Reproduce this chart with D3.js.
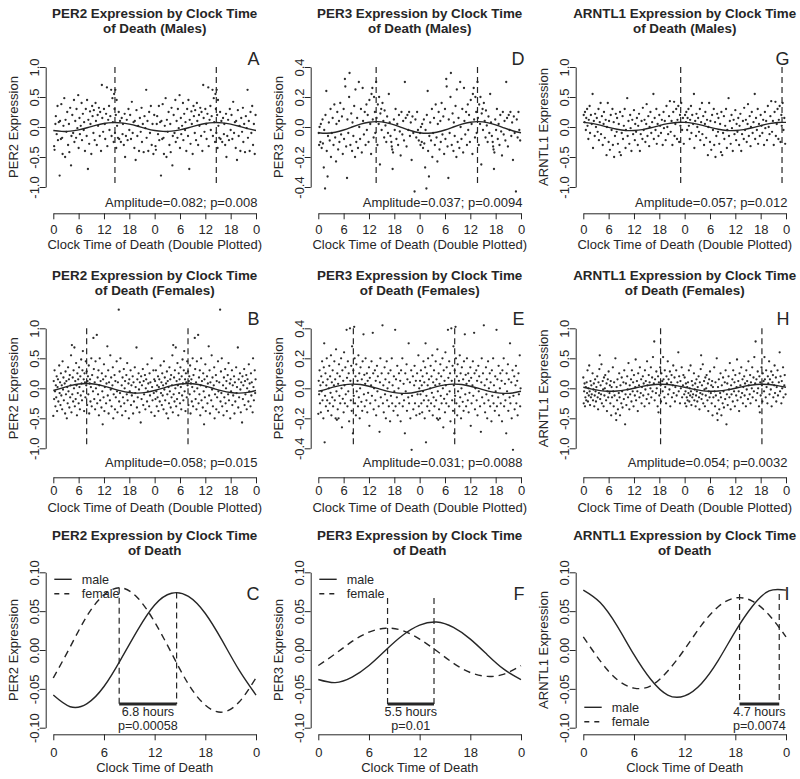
<!DOCTYPE html>
<html><head><meta charset="utf-8">
<script src="https://cdn.jsdelivr.net/npm/d3@7"></script>
<style>
body{margin:0;background:#fff;}
svg text{font-family:"Liberation Sans",Arial,Helvetica,sans-serif;fill:#262626;}
</style></head><body>
<svg id="c" width="800" height="779"></svg>
<script>
// ---------- DATA ----------
const curveHours = [0,2,4,6,8,10,12,14,16,18,20,22,24];
const per2MaleCurve   = [-0.058,-0.073,-0.069,-0.047,-0.012,0.026,0.058,0.073,0.069,0.047,0.012,-0.026,-0.058];
const per2FemaleCurve = [-0.036,0.004,0.044,0.071,0.080,0.067,0.036,-0.004,-0.044,-0.071,-0.080,-0.067,-0.036];
const per3MaleCurve   = [-0.038,-0.042,-0.035,-0.020,0.000,0.019,0.032,0.036,0.029,0.014,-0.006,-0.025,-0.038];
const per3FemaleCurve = [-0.020,-0.005,0.011,0.023,0.028,0.025,0.014,-0.001,-0.017,-0.029,-0.034,-0.031,-0.020];
const arntlMaleCurve  = [0.077,0.061,0.031,-0.006,-0.038,-0.058,-0.059,-0.043,-0.013,0.024,0.056,0.076,0.077];
const arntlFemaleCurve= [0.017,-0.014,-0.038,-0.049,-0.046,-0.027,0.001,0.032,0.056,0.067,0.063,0.045,0.017];

const scatterTicks = [0,6,12,18,24,30,36,42,48];
const scatterTickLabels = ["0","6","12","18","0","6","12","18","0"];
const dayTicks = [0,6,12,18,24];
const dayTickLabels = ["0","6","12","18","0"];
const wideYTicks = [-1,-0.5,0,0.5,1];
const wideYLabels = ["-1.0","-0.5","0.0","0.5","1.0"];
const per3YTicks = [-0.4,-0.2,0,0.2,0.4];
const per3YLabels = ["-0.4","-0.2","0.0","0.2","0.4"];
const compYTicks = [-0.1,-0.05,0,0.05,0.1];
const compYLabels = ["-0.10","-0.05","0.00","0.05","0.10"];

// individual samples (clock hour, expression), plotted twice (double plotted)
const per2MalePoints = [[0.2,-0.32],[0.3,-0.38],[0.5,0.05],[0.6,0.18],[0.8,-0.12],[1.0,0.35],[1.1,-0.22],[1.3,0.08],[1.5,-0.81],[1.6,0.1],[1.8,-0.2],[1.9,0.38],[2.1,-0.18],[2.2,-0.45],[2.4,0.02],[2.6,0.48],[2.8,-0.5],[2.9,0.12],[3.1,-0.08],[3.3,0.25],[3.5,-0.3],[3.7,0.05],[3.8,-0.42],[4.0,0.32],[4.2,-0.64],[4.3,-0.15],[4.5,0.2],[4.7,-0.1],[4.9,0.45],[5.0,-0.25],[5.2,0.1],[5.4,-0.18],[5.5,0.3],[5.7,-0.02],[5.9,0.53],[6.0,-0.35],[6.2,0.15],[6.3,-0.12],[6.5,0.02],[6.7,0.4],[6.8,-0.22],[7.0,0.22],[7.2,-0.05],[7.3,0.08],[7.5,-0.4],[7.7,0.3],[7.9,-0.15],[8.0,0.45],[8.2,-0.7],[8.3,0.12],[8.5,-0.28],[8.7,0.26],[8.8,0.05],[9.0,-0.45],[9.2,0.35],[9.3,0.18],[9.5,-0.1],[9.6,0.28],[9.8,-0.22],[10.0,0.4],[10.1,0.1],[10.3,-0.3],[10.5,0.2],[10.6,0.02],[10.8,0.32],[11.0,-0.15],[11.1,0.25],[11.3,-0.4],[11.5,0.7],[11.6,0.15],[11.8,-0.08],[12.0,0.3],[12.2,0.05],[12.3,-0.2],[12.5,0.22],[12.7,0.66],[12.8,-0.32],[13.0,0.12],[13.2,0.35],[13.3,-0.05],[13.5,0.18],[13.7,0.62],[13.8,-0.15],[14.0,0.48],[14.1,0.08],[14.3,-0.25],[14.4,0.55],[14.5,0.3],[14.6,-0.1],[14.7,0.62],[14.8,0.2],[14.9,-0.35],[15.0,0.45],[15.1,0.02],[15.3,-0.18],[15.5,0.25],[15.6,-0.2],[15.8,0.1],[16.0,-0.25],[16.2,0.15],[16.4,-0.12],[16.5,0.05],[16.7,-0.3],[16.9,0.22],[17.0,-0.5],[17.2,-0.15],[17.4,0.12],[17.6,-0.22],[17.8,0.3],[18.0,-0.05],[18.2,0.2],[18.4,-0.2],[18.6,0.42],[18.8,-0.1],[19.0,0.08],[19.2,-0.35],[19.3,0.1],[19.5,-0.55],[19.7,0.28],[19.9,-0.15],[20.1,0.02],[20.3,-0.4],[20.5,0.15],[20.7,-0.08],[20.9,0.32],[21.0,-0.25],[21.2,0.05],[21.4,-0.42],[21.6,0.18],[21.8,-0.02],[22.0,0.62],[22.1,-0.18],[22.3,0.1],[22.5,-0.4],[22.7,0.25],[22.9,-0.1],[23.1,0.35],[23.3,-0.3],[23.5,0.05],[23.7,-0.45],[23.9,0.2]];

const per3MalePoints = [[0.1,-0.04],[0.2,-0.12],[0.3,0.0],[0.5,-0.1],[0.6,0.02],[0.8,-0.14],[1.0,0.05],[1.1,-0.11],[1.3,-0.27],[1.4,-0.02],[1.6,-0.41],[1.7,0.08],[1.9,0.24],[2.0,-0.16],[2.2,-0.33],[2.3,-0.06],[2.5,0.03],[2.7,-0.09],[2.9,0.12],[3.0,-0.2],[3.2,-0.04],[3.4,0.06],[3.6,-0.12],[3.8,0.15],[4.0,-0.07],[4.2,-0.23],[4.3,0.02],[4.5,0.1],[4.7,-0.15],[4.9,0.04],[5.0,-0.1],[5.2,0.16],[5.4,-0.05],[5.6,0.07],[5.8,-0.18],[6.0,0.12],[6.1,-0.08],[6.3,0.32],[6.4,0.27],[6.6,-0.13],[6.8,-0.34],[6.9,0.05],[7.1,-0.04],[7.3,0.2],[7.4,0.36],[7.6,-0.12],[7.8,0.09],[8.0,-0.16],[8.1,0.03],[8.3,-0.06],[8.5,0.14],[8.7,-0.2],[8.8,0.25],[9.0,-0.1],[9.2,0.06],[9.4,-0.14],[9.6,0.3],[9.7,0.0],[9.9,-0.08],[10.1,0.12],[10.3,-0.17],[10.5,0.26],[10.6,0.04],[10.8,-0.05],[11.0,0.1],[11.2,-0.12],[11.4,0.15],[11.5,-0.02],[11.7,0.08],[11.9,-0.1],[12.1,0.18],[12.3,0.02],[12.5,-0.18],[12.6,0.22],[12.8,0.26],[12.9,0.05],[13.1,-0.07],[13.2,0.2],[13.4,0.1],[13.5,-0.04],[13.7,0.3],[13.8,0.06],[14.0,-0.12],[14.1,0.15],[14.3,0.02],[14.4,0.2],[14.6,-0.25],[14.7,0.09],[14.9,0.12],[15.0,-0.02],[15.2,0.16],[15.4,0.04],[15.6,-0.07],[15.7,0.11],[15.9,0.01],[16.1,-0.1],[16.3,0.07],[16.5,-0.04],[16.7,0.22],[16.9,0.03],[17.1,-0.06],[17.3,-0.1],[17.4,-0.13],[17.5,-0.15],[17.6,-0.28],[17.7,-0.17],[17.9,0.05],[18.1,-0.02],[18.3,0.12],[18.5,-0.08],[18.7,0.02],[18.9,-0.12],[19.1,0.08],[19.3,-0.03],[19.5,-0.19],[19.7,0.1],[19.9,-0.05],[20.1,0.04],[20.3,-0.09],[20.5,0.3],[20.7,0.06],[20.9,-0.13],[21.1,0.08],[21.3,-0.02],[21.5,0.1],[21.7,-0.06],[21.9,0.03],[22.1,-0.22],[22.3,0.07],[22.5,-0.04],[22.8,-0.43],[23.0,0.05],[23.2,-0.07],[23.4,0.1],[23.6,-0.02],[23.8,-0.09]];

const arntlMalePoints = [[0.1,0.2],[0.3,0.08],[0.4,0.25],[0.6,-0.05],[0.7,0.15],[0.9,0.3],[1.0,0.02],[1.2,-0.2],[1.3,0.12],[1.5,0.35],[1.6,-0.1],[1.8,0.2],[2.0,0.05],[2.2,0.55],[2.3,-0.35],[2.5,0.1],[2.7,-0.15],[2.8,0.22],[3.0,0.0],[3.2,0.15],[3.4,-0.08],[3.6,0.3],[3.7,-0.22],[3.9,0.08],[4.1,0.4],[4.2,-0.12],[4.4,0.18],[4.6,-0.3],[4.8,0.05],[4.9,0.25],[5.1,-0.18],[5.3,0.12],[5.5,-0.47],[5.6,0.0],[5.8,0.4],[6.0,-0.25],[6.1,0.1],[6.3,-0.38],[6.5,0.2],[6.7,-0.05],[6.9,0.3],[7.0,-0.3],[7.2,0.08],[7.3,-0.5],[7.5,-0.15],[7.7,0.22],[7.9,-0.08],[8.0,0.15],[8.2,-0.28],[8.4,0.05],[8.6,-0.42],[8.7,0.25],[8.9,-0.47],[9.1,-0.1],[9.3,0.18],[9.4,-0.2],[9.6,0.02],[9.8,0.3],[10.0,-0.35],[10.1,-0.05],[10.4,0.48],[10.5,-0.15],[10.7,0.1],[10.9,-0.28],[11.1,0.2],[11.2,-0.02],[11.4,-0.4],[11.6,0.12],[11.8,-0.12],[12.0,0.28],[12.2,-0.22],[12.3,0.05],[12.5,-0.08],[12.7,0.15],[12.9,-0.3],[13.0,0.02],[13.2,0.22],[13.4,-0.4],[13.6,-0.12],[13.8,0.1],[14.0,-0.2],[14.1,0.32],[14.3,-0.05],[14.5,0.12],[14.7,-0.25],[14.9,0.05],[15.0,0.38],[15.2,-0.15],[15.4,0.18],[15.6,-0.32],[15.7,0.0],[15.9,0.25],[16.1,-0.1],[16.3,0.08],[16.6,0.55],[16.7,-0.2],[16.9,0.15],[17.1,-0.05],[17.3,0.3],[17.4,-0.28],[17.6,0.05],[17.8,-0.15],[18.0,0.2],[18.2,0.02],[18.4,-0.1],[18.6,0.12],[18.8,-0.3],[19.0,0.25],[19.1,-0.02],[19.3,0.1],[19.5,-0.22],[19.7,0.35],[19.9,0.0],[20.1,-0.12],[20.3,0.18],[20.5,0.43],[20.7,-0.08],[20.9,0.1],[21.1,-0.3],[21.3,0.25],[21.5,0.42],[21.6,-0.15],[21.8,0.05],[22.0,0.3],[22.2,-0.2],[22.3,0.12],[22.5,0.35],[22.7,-0.25],[22.9,0.2],[23.0,0.02],[23.2,0.4],[23.4,-0.05],[23.6,0.15],[23.8,-0.28]];

const per2FemalePoints = [[0.0,-0.46],[0.1,0.12],[0.2,-0.18],[0.3,0.3],[0.4,-0.05],[0.5,-0.3],[0.6,0.05],[0.7,-0.15],[0.8,0.2],[0.9,-0.38],[1.0,0.02],[1.1,0.15],[1.2,-0.22],[1.4,0.38],[1.5,-0.08],[1.6,0.1],[1.7,-0.28],[1.8,0.25],[1.9,-0.12],[2.0,0.05],[2.1,-0.35],[2.2,0.45],[2.3,-0.02],[2.4,0.18],[2.5,-0.2],[2.7,0.08],[2.8,-0.42],[2.9,0.28],[3.0,-0.1],[3.1,0.12],[3.2,-0.5],[3.3,0.02],[3.4,-0.25],[3.5,0.35],[3.6,-0.05],[3.7,0.15],[3.8,-0.32],[3.9,0.22],[4.0,-0.15],[4.1,0.05],[4.2,0.55],[4.3,-0.4],[4.4,0.72],[4.5,-0.1],[4.6,0.18],[4.7,-0.22],[4.8,0.3],[4.9,0.0],[5.0,0.68],[5.1,-0.3],[5.2,0.12],[5.3,-0.18],[5.4,0.42],[5.5,0.05],[5.6,-0.45],[5.7,0.25],[5.8,-0.08],[5.9,0.15],[6.0,-0.25],[6.1,0.35],[6.2,0.02],[6.3,-0.35],[6.4,0.2],[6.5,-0.12],[6.6,0.48],[6.7,0.08],[6.8,-0.2],[6.9,0.3],[7.0,0.62],[7.1,-0.05],[7.2,0.15],[7.3,-0.38],[7.4,0.25],[7.5,0.1],[7.6,-0.15],[7.7,0.45],[7.8,0.05],[7.9,0.28],[8.0,-0.28],[8.1,0.12],[8.2,0.2],[8.3,-0.1],[8.4,0.38],[8.5,-0.42],[8.6,0.08],[8.7,0.15],[8.8,-0.22],[8.9,0.02],[9.0,0.5],[9.1,-0.3],[9.2,0.22],[9.4,-0.05],[9.5,0.84],[9.6,0.32],[9.7,-0.18],[9.8,0.1],[9.9,-0.35],[10.0,0.45],[10.1,0.0],[10.3,0.89],[10.4,-0.25],[10.5,0.18],[10.6,-0.1],[10.7,0.3],[10.8,-0.45],[10.9,0.05],[11.0,0.5],[11.1,-0.2],[11.2,0.12],[11.4,-0.32],[11.5,0.25],[11.6,-0.05],[11.7,-0.6],[11.8,0.15],[11.9,-0.15],[12.0,0.4],[12.1,-0.38],[12.2,0.02],[12.4,0.2],[12.5,-0.25],[12.6,0.08],[12.8,0.7],[12.9,-0.12],[13.0,0.3],[13.1,-0.42],[13.2,0.1],[13.4,-0.2],[13.5,0.55],[13.6,-0.02],[13.7,0.18],[13.8,-0.3],[14.0,0.05],[14.1,0.35],[14.2,-0.5],[14.3,-0.1],[14.5,0.22],[14.6,-0.35],[14.7,0.12],[14.8,-0.15],[15.0,0.45],[15.1,-0.05],[15.2,-0.4],[15.3,0.1],[15.5,1.31],[15.6,-0.22],[15.7,0.28],[15.8,-0.08],[15.9,0.5],[16.0,-0.3],[16.2,0.05],[16.3,-0.45],[16.4,0.18],[16.5,-0.15],[16.7,0.32],[16.8,-0.25],[16.9,0.0],[17.0,0.12],[17.1,-0.38],[17.3,0.22],[17.4,-0.1],[17.5,0.42],[17.6,-0.2],[17.8,0.08],[17.9,-0.5],[18.0,0.15],[18.1,-0.05],[18.3,0.3],[18.4,-0.28],[18.5,0.05],[18.6,-0.12],[18.8,0.2],[18.9,-0.42],[19.0,0.1],[19.1,-0.22],[19.3,0.35],[19.4,-0.08],[19.5,0.02],[19.7,0.68],[19.8,-0.32],[19.9,0.15],[20.0,-0.15],[20.2,0.25],[20.3,-0.02],[20.4,-0.4],[20.5,0.1],[20.7,-0.57],[20.8,0.2],[20.9,-0.18],[21.0,0.05],[21.2,0.32],[21.3,-0.28],[21.4,0.12],[21.5,-0.1],[21.7,0.22],[21.8,-0.35],[21.9,0.0],[22.0,0.15],[22.2,-0.22],[22.3,0.4],[22.4,-0.05],[22.5,0.08],[22.7,-0.3],[22.8,0.25],[22.9,-0.12],[23.0,0.1],[23.2,-0.4],[23.3,0.5],[23.4,0.02],[23.5,-0.2],[23.7,0.3],[23.8,-0.08],[23.9,0.15]];

const per3FemalePoints = [[0.0,-0.17],[0.1,0.05],[0.2,-0.04],[0.3,0.12],[0.4,-0.1],[0.5,0.02],[0.6,-0.16],[0.7,0.08],[0.8,-0.02],[0.9,0.18],[1.0,-0.08],[1.1,0.04],[1.2,-0.2],[1.3,0.14],[1.4,0.3],[1.5,-0.36],[1.6,-0.05],[1.7,0.1],[1.8,-0.12],[1.9,0.02],[2.0,0.2],[2.1,-0.08],[2.2,0.06],[2.3,-0.15],[2.5,0.0],[2.6,0.15],[2.7,-0.1],[2.8,0.08],[2.9,-0.03],[3.0,0.22],[3.1,-0.18],[3.2,0.04],[3.3,-0.06],[3.4,0.12],[3.5,-0.12],[3.7,0.02],[3.8,0.18],[3.9,-0.08],[4.0,0.06],[4.1,-0.2],[4.2,0.26],[4.3,-0.02],[4.4,-0.21],[4.5,0.1],[4.6,-0.14],[4.7,0.03],[4.8,-0.2],[4.9,0.16],[5.0,-0.05],[5.1,0.08],[5.2,-0.1],[5.4,0.2],[5.5,0.0],[5.6,-0.26],[5.7,0.12],[5.8,-0.07],[5.9,0.05],[6.0,-0.16],[6.1,0.24],[6.2,0.02],[6.3,-0.1],[6.4,0.14],[6.5,-0.04],[6.7,0.39],[6.8,0.07],[6.9,-0.12],[7.0,0.18],[7.1,-0.02],[7.2,0.1],[7.3,-0.22],[7.5,0.4],[7.6,0.05],[7.7,-0.08],[7.8,0.15],[7.9,-0.15],[8.0,0.28],[8.1,0.02],[8.2,-0.3],[8.3,0.12],[8.4,-0.05],[8.5,0.41],[8.6,0.2],[8.7,-0.1],[8.8,0.08],[8.9,-0.18],[9.0,0.16],[9.1,-0.02],[9.3,0.05],[9.4,-0.12],[9.5,0.22],[9.6,-0.06],[9.7,0.1],[9.8,-0.2],[9.9,0.0],[10.0,0.14],[10.2,-0.09],[10.3,0.06],[10.4,-0.15],[10.5,0.18],[10.7,0.36],[10.8,-0.04],[10.9,0.09],[11.0,-0.12],[11.1,0.03],[11.2,0.2],[11.4,-0.08],[11.5,0.1],[11.6,-0.16],[11.7,0.05],[11.8,-0.03],[12.0,0.14],[12.1,-0.25],[12.2,0.07],[12.3,-0.1],[12.5,0.02],[12.6,0.18],[12.7,-0.05],[12.9,0.37],[13.0,0.1],[13.1,-0.14],[13.2,0.0],[13.4,0.12],[13.5,-0.08],[13.6,0.05],[13.7,-0.18],[13.9,0.15],[14.0,-0.02],[14.1,0.08],[14.3,-0.12],[14.5,-0.29],[14.6,0.04],[14.7,0.2],[14.8,-0.06],[15.0,0.1],[15.2,0.42],[15.3,-0.1],[15.4,0.02],[15.5,-0.16],[15.7,0.14],[15.8,-0.04],[15.9,0.06],[16.0,-0.2],[16.2,0.18],[16.3,-0.08],[16.4,0.0],[16.6,0.1],[16.7,-0.12],[16.8,0.04],[17.0,-0.22],[17.1,0.12],[17.2,-0.05],[17.4,0.2],[17.5,-0.1],[17.6,0.02],[17.8,-0.15],[17.9,0.08],[18.0,-0.02],[18.2,0.39],[18.3,-0.12],[18.4,0.06],[18.6,-0.06],[18.7,0.15],[18.8,-0.18],[19.0,0.0],[19.1,0.1],[19.2,-0.1],[19.4,0.05],[19.5,-0.22],[19.6,0.12],[19.8,-0.04],[19.9,0.2],[20.0,-0.12],[20.2,0.03],[20.3,-0.08],[20.5,-0.3],[20.6,0.1],[20.7,-0.02],[20.9,0.16],[21.0,-0.15],[21.1,0.06],[21.3,-0.06],[21.4,0.3],[21.5,-0.1],[21.7,0.04],[21.8,-0.2],[22.0,0.12],[22.1,-0.41],[22.2,-0.05],[22.4,0.08],[22.5,-0.14],[22.7,0.02],[22.8,0.15],[22.9,-0.1],[23.1,0.05],[23.2,-0.18],[23.4,0.1],[23.5,-0.04],[23.7,0.22],[23.8,-0.12],[23.9,0.0]];

const arntlFemalePoints = [[0.0,0.18],[0.1,-0.25],[0.2,-0.05],[0.3,0.08],[0.4,-0.3],[0.5,-0.15],[0.6,0.02],[0.7,-0.2],[0.8,0.1],[0.9,-0.08],[1.0,0.3],[1.1,-0.22],[1.2,0.0],[1.3,-0.12],[1.4,0.38],[1.5,-0.05],[1.6,-0.28],[1.7,0.12],[1.8,-0.15],[1.9,0.05],[2.0,-0.1],[2.2,0.25],[2.3,-0.2],[2.4,-0.02],[2.5,0.08],[2.6,-0.3],[2.7,-0.12],[2.8,0.15],[2.9,-0.05],[3.0,-0.22],[3.1,0.02],[3.3,0.2],[3.4,-0.15],[3.5,-0.35],[3.6,0.1],[3.7,-0.08],[3.8,0.32],[3.9,0.55],[4.0,-0.18],[4.1,0.05],[4.2,-0.1],[4.3,0.4],[4.4,-0.25],[4.6,0.12],[4.7,-0.02],[4.8,-0.3],[4.9,0.18],[5.0,-0.12],[5.1,0.0],[5.2,0.22],[5.4,-0.2],[5.5,0.08],[5.6,-0.38],[5.7,-0.05],[5.8,0.15],[5.9,-0.15],[6.0,0.28],[6.2,-0.08],[6.3,0.05],[6.4,-0.25],[6.5,0.12],[6.6,-0.45],[6.7,0.02],[6.8,-0.15],[7.0,0.35],[7.1,-0.05],[7.2,-0.3],[7.3,0.1],[7.4,-0.12],[7.6,0.5],[7.7,-0.42],[7.8,-0.53],[7.9,0.02],[8.0,-0.2],[8.1,0.15],[8.2,-0.35],[8.4,-0.08],[8.5,0.25],[8.6,-0.15],[8.7,-0.45],[8.8,0.05],[9.0,-0.25],[9.1,0.18],[9.2,-0.05],[9.3,-0.32],[9.5,0.1],[9.6,-0.18],[9.7,0.3],[9.9,-0.6],[10.0,-0.1],[10.1,0.08],[10.2,-0.28],[10.4,0.2],[10.5,-0.02],[10.6,-0.15],[10.7,0.42],[10.9,-0.35],[11.0,0.05],[11.1,-0.1],[11.3,0.15],[11.4,-0.22],[11.5,0.3],[11.7,-0.05],[11.8,0.1],[11.9,-0.3],[12.0,0.22],[12.2,-0.12],[12.3,0.02],[12.4,0.48],[12.5,-0.2],[12.7,0.12],[12.8,-0.05],[12.9,-0.38],[13.0,0.25],[13.2,0.05],[13.3,-0.15],[13.4,0.35],[13.6,-0.08],[13.7,0.15],[13.8,-0.25],[13.9,0.02],[14.1,0.2],[14.2,-0.12],[14.3,0.08],[14.5,-0.3],[14.6,0.3],[14.7,-0.02],[14.8,0.12],[15.0,-0.18],[15.1,0.45],[15.2,0.05],[15.4,-0.1],[15.5,0.22],[15.6,-0.25],[15.7,0.1],[15.9,0.0],[16.0,0.35],[16.1,-0.15],[16.3,0.18],[16.4,-0.05],[16.5,0.52],[16.7,0.08],[16.8,0.78],[16.9,-0.2],[17.0,0.15],[17.2,-0.08],[17.3,0.28],[17.4,0.0],[17.6,-0.3],[17.7,0.2],[17.8,-0.4],[17.9,0.1],[18.0,-0.12],[18.2,0.35],[18.3,0.05],[18.4,-0.22],[18.5,0.25],[18.7,0.12],[18.8,-0.05],[18.9,0.52],[19.0,0.15],[19.2,-0.15],[19.3,0.3],[19.4,0.02],[19.6,-0.25],[19.7,0.2],[19.8,0.08],[20.0,0.45],[20.1,-0.1],[20.2,0.15],[20.4,-0.02],[20.5,0.28],[20.6,-0.3],[20.8,0.1],[20.9,0.22],[21.0,-0.15],[21.2,0.05],[21.3,0.38],[21.4,-0.08],[21.6,0.18],[21.7,-0.22],[21.8,0.02],[22.0,0.3],[22.1,-0.12],[22.3,0.1],[22.5,0.6],[22.6,-0.05],[22.7,0.2],[22.9,-0.25],[23.0,0.12],[23.1,0.0],[23.3,0.35],[23.4,-0.15],[23.6,0.05],[23.7,0.22],[23.9,-0.1]];

const genes = ["PER2","PER3","ARNTL1"];
const scatterPeaks = {PER2:[14.6,7.9], PER3:[13.7,8.3], ARNTL1:[23.06,18.3]}; // [male, female]
const scatterStats = {
  PER2:["Amplitude=0.082; p=0.008","Amplitude=0.058; p=0.015"],
  PER3:["Amplitude=0.037; p=0.0094","Amplitude=0.031; p=0.0088"],
  ARNTL1:["Amplitude=0.057; p=0.012","Amplitude=0.054; p=0.0032"]};
const compPeaks = {PER2:[14.6,7.8], PER3:[13.7,8.2], ARNTL1:[23.2,18.5]}; // [male, female]
const compPeakTop = {PER2:[0.074,0.080], PER3:[0.067,0.067], ARNTL1:[0.072,0.072]};
const compGap = {PER2:["6.8 hours","p=0.00058"], PER3:["5.5 hours","p=0.01"], ARNTL1:["4.7 hours","p=0.0074"]};
const letters = {PER2:["A","B","C"], PER3:["D","E","F"], ARNTL1:["G","H","I"]};

// ---------- LAYOUT ----------
const INK = "#262626";
const svg = d3.select("#c");
const colOff = [0,265,530];
const X0 = 53.3, X1 = 256, YAX = 45.7;
const rows = [
 {top:67,bot:187,axisY:213.3,tickBase:234.5,labBase:248.8,title:[17.5,32.5],letter:64.5,ampl:206.7},
 {top:328.3,bot:448.3,axisY:477.3,tickBase:495.5,labBase:512,title:[279.5,294.5],letter:325,ampl:466.7},
 {top:572.3,bot:727.7,axisY:734.3,tickBase:757.5,labBase:772,title:[540,555],letter:600}
];

function frame(g, row, x, y, xt, xtl, yt, ytl, title1, title2, ylab, xlab, letter){
  g.append("text").attr("x",154.7).attr("y",row.title[0]).attr("text-anchor","middle")
    .attr("font-size",13.4).attr("font-weight","bold").text(title1);
  g.append("text").attr("x",154.7).attr("y",row.title[1]).attr("text-anchor","middle")
    .attr("font-size",13.4).attr("font-weight","bold").text(title2);
  const ya = g.append("g").attr("transform",`translate(${YAX},0)`)
    .call(d3.axisLeft(y).tickValues(yt).tickFormat((d,i)=>ytl[i]).tickSize(6).tickSizeOuter(0));
  ya.selectAll("text").attr("x",0).attr("dy",0).attr("text-anchor","middle")
    .attr("transform","translate(-6.6,0) rotate(-90)");
  const xa = g.append("g").attr("transform",`translate(0,${row.axisY})`)
    .call(d3.axisBottom(x).tickValues(xt).tickFormat((d,i)=>xtl[i]).tickSize(6).tickSizeOuter(0));
  xa.selectAll("text").attr("y",row.tickBase-row.axisY).attr("dy",0);
  [ya,xa].forEach(a=>{
    a.attr("font-size",13).attr("font-family",null);
    a.selectAll("path,line").attr("stroke",INK);
    a.selectAll("text").attr("fill",INK);
  });
  g.append("text").attr("transform",`translate(17.8,${(row.top+row.bot)/2}) rotate(-90)`)
    .attr("text-anchor","middle").attr("font-size",13).text(ylab);
  g.append("text").attr("x",154.7).attr("y",row.labBase).attr("text-anchor","middle")
    .attr("font-size",13).text(xlab);
  g.append("text").attr("x",259.5).attr("y",row.letter).attr("text-anchor","end")
    .attr("font-size",18).text(letter);
}

const pointSets = {
  PER2:[per2MalePoints, per2FemalePoints],
  PER3:[per3MalePoints, per3FemalePoints],
  ARNTL1:[arntlMalePoints, arntlFemalePoints]};
const curves = {
  PER2:[per2MaleCurve, per2FemaleCurve],
  PER3:[per3MaleCurve, per3FemaleCurve],
  ARNTL1:[arntlMaleCurve, arntlFemaleCurve]};

genes.forEach((gene, ci)=>{
  const off = colOff[ci];
  // scatter rows
  [0,1].forEach(ri=>{
    const row = rows[ri];
    const g = svg.append("g").attr("transform",`translate(${off},0)`);
    const x = d3.scaleLinear().domain([0,48]).range([X0,X1]);
    const isPer3 = gene==="PER3";
    const y = d3.scaleLinear().domain(isPer3?[-0.4,0.4]:[-1,1]).range([row.bot,row.top]);
    frame(g,row,x,y,scatterTicks,scatterTickLabels,
      isPer3?per3YTicks:wideYTicks, isPer3?per3YLabels:wideYLabels,
      `${gene} Expression by Clock Time`, ri===0?"of Death (Males)":"of Death (Females)",
      `${gene} Expression`, "Clock Time of Death (Double Plotted)", letters[gene][ri]);
    const pts = pointSets[gene][ri];
    const doubled = pts.map(p=>p).concat(pts.map(p=>[p[0]+24,p[1]]));
    g.append("g").selectAll("circle").data(doubled).join("circle")
      .attr("cx",d=>x(d[0])).attr("cy",d=>y(d[1])).attr("r",1.15).attr("fill","#2c2c2c");
    const cv = curves[gene][ri];
    const cpts = curveHours.map((h,i)=>[h,cv[i]]).concat(curveHours.slice(1).map((h,i)=>[h+24,cv[i+1]]));
    g.append("path").datum(cpts).attr("fill","none").attr("stroke",INK).attr("stroke-width",1.4)
      .attr("d",d3.line().x(d=>x(d[0])).y(d=>y(d[1])).curve(d3.curveNatural));
    const pk = scatterPeaks[gene][ri];
    [pk, pk+24].forEach(h=>{
      g.append("line").attr("x1",x(h)).attr("x2",x(h)).attr("y1",row.top).attr("y2",row.bot)
        .attr("stroke",INK).attr("stroke-width",1.2).attr("stroke-dasharray","6,4");
    });
    g.append("text").attr("x",257.5).attr("y",row.ampl).attr("text-anchor","end")
      .attr("font-size",13).text(scatterStats[gene][ri]);
  });
  // comparison row
  const row = rows[2];
  const g = svg.append("g").attr("transform",`translate(${off},0)`);
  const x = d3.scaleLinear().domain([0,24]).range([X0,X1]);
  const y = d3.scaleLinear().domain([-0.1,0.1]).range([row.bot,row.top]);
  frame(g,row,x,y,dayTicks,dayTickLabels,compYTicks,compYLabels,
    `${gene} Expression by Clock Time`,"of Death",`${gene} Expression`,"Clock Time of Death",letters[gene][2]);
  const line = d3.line().x(d=>x(d[0])).y(d=>y(d[1])).curve(d3.curveNatural);
  const [mc, fc] = curves[gene];
  g.append("path").datum(curveHours.map((h,i)=>[h,mc[i]])).attr("fill","none")
    .attr("stroke",INK).attr("stroke-width",1.4).attr("d",line);
  g.append("path").datum(curveHours.map((h,i)=>[h,fc[i]])).attr("fill","none")
    .attr("stroke",INK).attr("stroke-width",1.4).attr("stroke-dasharray","7,5").attr("d",line);
  const barV = -0.0695;
  const [mp, fp] = compPeaks[gene];
  const [mt, ft] = compPeakTop[gene];
  [[mp,mt],[fp,ft]].forEach(([h,t])=>{
    g.append("line").attr("x1",x(h)).attr("x2",x(h)).attr("y1",y(t)).attr("y2",y(barV))
      .attr("stroke",INK).attr("stroke-width",1.2).attr("stroke-dasharray","6,4");
  });
  g.append("line").attr("x1",x(fp)).attr("x2",x(mp)).attr("y1",y(barV)).attr("y2",y(barV))
    .attr("stroke",INK).attr("stroke-width",2.8);
  const mid = (x(fp)+x(mp))/2;
  g.append("text").attr("x",mid).attr("y",716).attr("text-anchor","middle").attr("font-size",12.6).text(compGap[gene][0]);
  g.append("text").attr("x",mid).attr("y",730).attr("text-anchor","middle").attr("font-size",12.6).text(compGap[gene][1]);
  // legend
  const ly = gene==="ARNTL1" ? [707.3,721.7] : [579.3,593.8];
  ["male","female"].forEach((lab,i)=>{
    g.append("line").attr("x1",54.3).attr("x2",71.7).attr("y1",ly[i]).attr("y2",ly[i])
      .attr("stroke",INK).attr("stroke-width",1.4).attr("stroke-dasharray",i?"5,5":null);
    g.append("text").attr("x",81.7).attr("y",ly[i]+4.4).attr("font-size",12.6).text(lab);
  });
});
</script>
</body></html>
